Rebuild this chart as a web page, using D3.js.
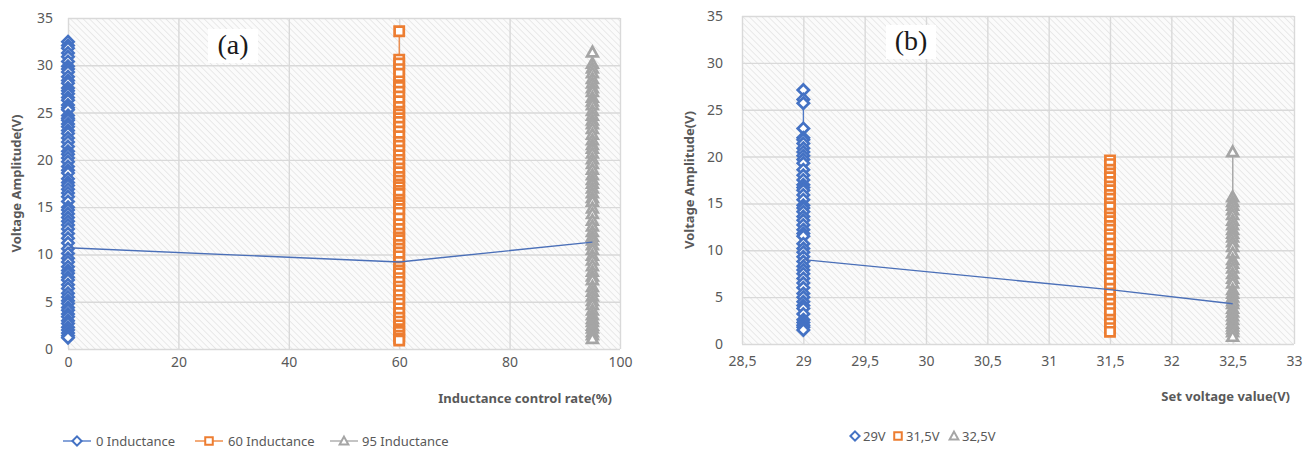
<!DOCTYPE html>
<html>
<head>
<meta charset="utf-8">
<script src="https://cdn.jsdelivr.net/npm/d3@7"></script>
<style>
  html, body { margin: 0; padding: 0; background: #fff; }
  svg { display: block; }
</style>
</head>
<body>
<svg id="chart" width="1314" height="454"></svg>
<script>
// ---- Panel (a): amplitude vs inductance control rate ----
const aCategories = [0, 60, 95];
const aSeriesNames = ["0 Inductance", "60 Inductance", "95 Inductance"];
const a0Values = [32.5, 32.1, 31.8, 31.3, 30.9, 30.4, 29.9, 29.6, 29.3, 28.8, 28.4, 28.1, 27.6, 27.3,
  27.0, 26.6, 26.3, 25.8, 25.5, 25.3, 24.7, 24.4, 24.2, 23.8, 23.5, 23.1, 22.8, 22.3, 21.9, 21.4,
  20.9, 20.6, 20.2, 19.8, 19.3, 18.9, 18.6, 18.0, 17.6, 17.3, 16.9, 16.5, 16.1, 15.6, 15.0, 14.7,
  14.3, 13.9, 13.5, 13.1, 12.7, 12.2, 11.7, 11.2, 10.6, 10.1, 9.6, 9.2, 8.7, 8.3, 8.0, 7.6, 7.3,
  6.8, 6.4, 5.9, 5.5, 5.1, 4.8, 4.4, 4.1, 3.7, 3.4, 3.0, 2.7, 2.3, 2.0, 1.7, 1.4, 1.2];
const a60Values = [33.6, 30.6, 30.2, 29.6, 29.1, 28.3, 27.9, 27.7, 27.2, 26.7, 26.2, 25.6, 25.1, 24.8,
  24.4, 24.0, 23.5, 23.0, 22.5, 21.9, 21.5, 21.0, 20.5, 20.0, 19.6, 19.1, 18.7, 18.2, 17.8, 17.4,
  17.1, 16.7, 16.4, 15.8, 15.5, 15.2, 14.8, 14.4, 13.8, 13.2, 12.7, 12.2, 11.8, 11.5, 11.0, 10.6,
  10.2, 9.8, 9.2, 8.7, 8.3, 8.0, 7.5, 7.1, 6.6, 6.2, 5.7, 5.2, 4.8, 4.3, 3.8, 3.3, 2.9, 2.5, 2.1,
  1.8, 1.4, 1.1, 0.9];
const a95Values = [31.4, 30.2, 29.7, 29.2, 28.6, 28.1, 27.6, 27.2, 26.6, 26.2, 25.8, 25.2, 24.7, 24.2,
  23.8, 23.3, 22.7, 22.1, 21.6, 21.2, 20.7, 20.1, 19.6, 19.0, 18.4, 17.9, 17.5, 17.0, 16.5, 16.0,
  15.6, 14.9, 14.3, 13.6, 13.0, 12.4, 11.9, 11.5, 11.0, 10.5, 9.9, 9.4, 8.8, 8.2, 7.7, 7.3, 6.6,
  6.1, 5.6, 5.1, 4.7, 4.1, 3.6, 3.2, 2.9, 2.5, 2.2, 1.8, 1.5, 1.1];
const aMeanValues = [10.7, 9.2, 11.3];
const aXTicks = [0, 20, 40, 60, 80, 100];

// ---- Panel (b): amplitude vs set voltage ----
const bCategories = [29, 31.5, 32.5];
const bSeriesNames = ["29V", "31,5V", "32,5V"];
const b29Values = [27.1, 26.1, 25.7, 23.0, 22.0, 21.8, 21.4, 20.9, 20.5, 20.1, 19.7, 19.3, 18.6, 18.0,
  17.5, 17.0, 16.7, 16.4, 15.9, 15.4, 14.8, 14.5, 14.1, 13.6, 13.2, 12.7, 12.2, 11.8, 11.5, 10.7,
  10.2, 9.8, 9.3, 8.8, 8.3, 7.9, 7.5, 7.0, 6.5, 6.0, 5.4, 5.0, 4.5, 4.1, 3.8, 3.2, 2.6, 2.3, 2.0,
  1.8, 1.5];
const b315Values = [19.6, 19.2, 18.6, 18.2, 17.8, 17.3, 16.8, 16.4, 15.9, 15.5, 15.0, 14.6, 13.9, 13.5,
  13.1, 12.6, 12.2, 11.7, 11.3, 10.7, 10.2, 9.6, 9.0, 8.6, 8.2, 7.5, 7.0, 6.5, 5.9, 5.4, 4.8, 4.3,
  3.8, 3.3, 2.6, 2.2, 1.7, 1.3];
const b325Values = [20.5, 15.7, 15.2, 14.8, 14.3, 13.8, 13.2, 12.7, 12.2, 11.8, 11.4, 10.9, 10.4, 9.7,
  9.0, 8.6, 8.1, 7.5, 7.0, 6.5, 5.8, 5.4, 5.0, 4.6, 4.3, 3.8, 3.4, 3.0, 2.6, 2.2, 1.9, 1.6, 1.3, 0.8];
const bMeanValues = [9.0, 5.8, 4.3];
const bXTicks = [28.5, 29, 29.5, 30, 30.5, 31, 31.5, 32, 32.5, 33];

const yTicks = [0, 5, 10, 15, 20, 25, 30, 35];

const colors = ["#4472C4", "#ED7D31", "#A5A5A5"];
const markerTypes = ["diamond", "square", "triangle"];
const tickColor = "#595959";
const sansFont = "'Noto Sans', 'Open Sans', sans-serif";

const svg = d3.select("#chart");

// light diagonal hatch used as the plot-area fill
const defs = svg.append("defs");
const pat = defs.append("pattern")
  .attr("id", "hatch").attr("patternUnits", "userSpaceOnUse")
  .attr("width", 4.5).attr("height", 4.5)
  .attr("patternTransform", "rotate(-45)");
pat.append("rect").attr("width", 4.5).attr("height", 4.5).attr("fill", "#fbfbfb");
pat.append("line").attr("x1", 0).attr("y1", 0).attr("x2", 0).attr("y2", 4.5)
  .attr("stroke", "#e0e0e0").attr("stroke-width", 1.3);

function markerPath(type, s) {
  const p = d3.path();
  if (type === "diamond") {
    p.moveTo(0, -s); p.lineTo(s, 0); p.lineTo(0, s); p.lineTo(-s, 0); p.closePath();
  } else if (type === "square") {
    const h = s * 0.82;
    p.rect(-h, -h, 2 * h, 2 * h);
  } else {
    const h = s * 0.95;
    p.moveTo(0, -h); p.lineTo(h, h * 0.8); p.lineTo(-h, h * 0.8); p.closePath();
  }
  return p.toString();
}

function drawPanel(cfg) {
  const g = svg.append("g");
  const x = d3.scaleLinear().domain(cfg.xDomain).range([cfg.left, cfg.right]);
  const y = d3.scaleLinear().domain([0, 35]).range([cfg.bottom, cfg.top]);

  g.append("rect")
    .attr("x", cfg.left).attr("y", cfg.top)
    .attr("width", cfg.right - cfg.left).attr("height", cfg.bottom - cfg.top)
    .attr("fill", "url(#hatch)");

  // gridlines and tick labels
  const yAxis = d3.axisLeft(y).tickValues(yTicks).tickSize(-(cfg.right - cfg.left)).tickPadding(cfg.yTickPad);
  const yg = g.append("g").attr("transform", `translate(${cfg.left},0)`).call(yAxis);
  yg.select(".domain").remove();
  yg.selectAll("line").attr("stroke", "#d9d9d9").attr("stroke-width", 1.4);
  yg.selectAll("text").attr("fill", tickColor).attr("font-size", 14).attr("font-family", sansFont);

  const xAxis = d3.axisBottom(x).tickValues(cfg.xTicks).tickSize(-(cfg.bottom - cfg.top))
    .tickPadding(cfg.xTickPad).tickFormat(cfg.xFormat);
  const xg = g.append("g").attr("transform", `translate(0,${cfg.bottom})`).call(xAxis);
  xg.select(".domain").remove();
  xg.selectAll("line").attr("stroke", "#d9d9d9").attr("stroke-width", 1.4);
  xg.selectAll("text").attr("fill", tickColor).attr("font-size", 14).attr("font-family", sansFont);

  // each series: thin vertical connector + markers
  cfg.series.forEach((vals, i) => {
    const cx = cfg.categories[i];
    const sorted = vals.slice().sort((a, b) => b - a);
    g.append("path")
      .attr("d", d3.line().x(() => x(cx)).y(v => y(v))(sorted))
      .attr("fill", "none").attr("stroke", colors[i]).attr("stroke-width", 1.2);
    g.selectAll(null).data(vals).enter().append("path")
      .attr("d", markerPath(markerTypes[i], cfg.markerSize))
      .attr("transform", v => `translate(${x(cx)},${y(v)})`)
      .attr("fill", "#fff").attr("stroke", colors[i]).attr("stroke-width", 2.7);
  });

  // line through the mean amplitudes
  g.append("path")
    .attr("d", d3.line().x((d, i) => x(cfg.categories[i])).y(d => y(d))(cfg.means))
    .attr("fill", "none").attr("stroke", "#4a6fb8").attr("stroke-width", 1.4);

  // panel tag
  g.append("rect").attr("x", cfg.tag.x - 25).attr("y", cfg.tag.y - 25)
    .attr("width", 50).attr("height", 34).attr("fill", "#fff");
  g.append("text").attr("x", cfg.tag.x).attr("y", cfg.tag.y)
    .attr("text-anchor", "middle").attr("font-family", "'Liberation Serif', 'DejaVu Serif', serif")
    .attr("font-size", 28).attr("fill", "#1a1a1a").text(cfg.tag.text);

  // axis titles
  g.append("text")
    .attr("transform", `translate(${cfg.yTitleX},${(cfg.top + cfg.bottom) / 2}) rotate(-90)`)
    .attr("text-anchor", "middle").attr("font-size", 13).attr("font-weight", "bold")
    .attr("font-family", sansFont).attr("fill", tickColor).text("Voltage Amplitude(V)");
  g.append("text").attr("x", cfg.xTitleRight).attr("y", cfg.xTitleY)
    .attr("text-anchor", "end").attr("font-size", 13).attr("font-weight", "bold")
    .attr("font-family", sansFont).attr("fill", tickColor).text(cfg.xTitle);

  // legend
  cfg.legend.forEach((it, i) => {
    const lg = g.append("g").attr("transform", `translate(${it.x},${cfg.legendY})`);
    if (cfg.legendLines) {
      lg.append("line").attr("x1", -14).attr("x2", 14).attr("y1", 0).attr("y2", 0)
        .attr("stroke", colors[i]).attr("stroke-width", 1.3);
    }
    lg.append("path").attr("d", markerPath(markerTypes[i], 4.6))
      .attr("fill", "#fff").attr("stroke", colors[i]).attr("stroke-width", 2);
    lg.append("text").attr("x", it.dx).attr("y", 5).attr("font-size", 13)
      .attr("font-family", sansFont).attr("fill", tickColor).text(cfg.names[i]);
  });
}

drawPanel({
  xDomain: [0, 100], left: 68, right: 620, top: 18, bottom: 349,
  xTicks: aXTicks, xFormat: d3.format("d"), xTickPad: 8, yTickPad: 15,
  categories: aCategories, series: [a0Values, a60Values, a95Values], means: aMeanValues,
  markerSize: 5.6,
  tag: { x: 233, y: 54, text: "(a)" },
  yTitleX: 21, xTitle: "Inductance control rate(%)", xTitleRight: 612, xTitleY: 403,
  names: aSeriesNames, legendY: 441, legendLines: true,
  legend: [{ x: 77, dx: 19 }, { x: 209, dx: 19 }, { x: 344, dx: 18 }]
});

drawPanel({
  xDomain: [28.5, 33], left: 742, right: 1294, top: 16, bottom: 344,
  xTicks: bXTicks, xFormat: d => String(d).replace(".", ","), xTickPad: 12, yTickPad: 19,
  categories: bCategories, series: [b29Values, b315Values, b325Values], means: bMeanValues,
  markerSize: 5.6,
  tag: { x: 911, y: 50, text: "(b)" },
  yTitleX: 694, xTitle: "Set voltage value(V)", xTitleRight: 1290, xTitleY: 401,
  names: bSeriesNames, legendY: 436, legendLines: false,
  legend: [{ x: 855, dx: 8 }, { x: 898, dx: 8 }, { x: 954, dx: 8 }]
});
</script>
</body>
</html>
